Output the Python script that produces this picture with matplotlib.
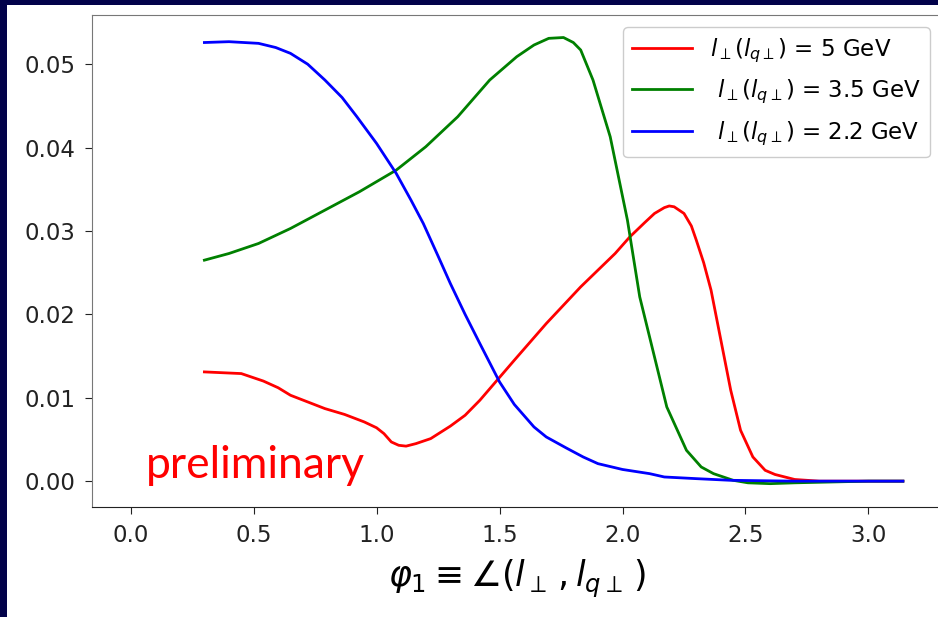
import matplotlib.pyplot as plt
from matplotlib.patches import Rectangle

# curve samples: azimuthal angle phi_1 and distribution value
phi_red = [0.30, 0.45, 0.54, 0.60, 0.65, 0.72, 0.79, 0.87, 0.95, 1.00, 1.03, 1.06,
           1.09, 1.12, 1.16, 1.22, 1.30, 1.36, 1.42, 1.49, 1.56, 1.69, 1.83, 1.97,
           2.03, 2.09, 2.13, 2.17, 2.19, 2.21, 2.25, 2.28, 2.30, 2.33, 2.36, 2.40,
           2.44, 2.48, 2.53, 2.58, 2.62, 2.70, 2.80, 3.00, 3.14]
val_red = [0.0131, 0.0129, 0.0120, 0.0112, 0.0103, 0.0095, 0.0087, 0.0080, 0.0071,
           0.0064, 0.0057, 0.0047, 0.0043, 0.0042, 0.0045, 0.0051, 0.0066, 0.0079,
           0.0097, 0.0121, 0.0145, 0.0189, 0.0233, 0.0273, 0.0293, 0.0310, 0.0321,
           0.0328, 0.0330, 0.0329, 0.0321, 0.0306, 0.0289, 0.0262, 0.0229, 0.0169,
           0.0109, 0.0061, 0.0029, 0.0013, 0.0008, 0.0002, 0.0000, 0.0000, 0.0000]

phi_green = [0.30, 0.40, 0.52, 0.65, 0.79, 0.93, 1.08, 1.20, 1.33, 1.46, 1.57, 1.64,
             1.70, 1.76, 1.80, 1.83, 1.88, 1.95, 2.02, 2.07, 2.13, 2.18, 2.26, 2.32,
             2.37, 2.45, 2.51, 2.60, 2.70, 2.85, 3.00, 3.14]
val_green = [0.0265, 0.0273, 0.0285, 0.0303, 0.0325, 0.0347, 0.0373, 0.0401, 0.0437,
             0.0481, 0.0509, 0.0523, 0.0531, 0.0532, 0.0526, 0.0517, 0.0481, 0.0413,
             0.0313, 0.0221, 0.0149, 0.0089, 0.0037, 0.0017, 0.0009, 0.0001, -0.0002,
             -0.0003, -0.0002, -0.0001, 0.0000, 0.0000]

phi_blue = [0.30, 0.40, 0.52, 0.59, 0.65, 0.72, 0.79, 0.86, 0.92, 1.00, 1.08, 1.14,
            1.19, 1.25, 1.30, 1.36, 1.42, 1.50, 1.56, 1.64, 1.69, 1.77, 1.84, 1.90,
            2.00, 2.11, 2.17, 2.30, 2.44, 2.70, 3.14]
val_blue = [0.0526, 0.0527, 0.0525, 0.0520, 0.0513, 0.0500, 0.0481, 0.0460, 0.0437,
            0.0405, 0.0369, 0.0337, 0.0309, 0.0270, 0.0237, 0.0200, 0.0165, 0.0119,
            0.0092, 0.0065, 0.0053, 0.0040, 0.0029, 0.0021, 0.0014, 0.0009, 0.0005,
            0.0003, 0.0001, 0.0000, 0.0000]

labels = [r'$l_\perp(l_{q\perp})$ = 5 GeV',
          r' $l_\perp(l_{q\perp})$ = 3.5 GeV',
          r' $l_\perp(l_{q\perp})$ = 2.2 GeV']

fig = plt.figure(figsize=(9.38, 6.17), dpi=100, facecolor='#02024a')
# white slide area inside the dark border
fig.patches.append(Rectangle((7 / 938, 0), 1, (617 - 5) / 617, transform=fig.transFigure,
                             facecolor='white', edgecolor='none', zorder=-5))

ax = fig.add_axes([92 / 938, 110 / 617, 850 / 938, 492 / 617])
ax.plot(phi_red, val_red, color='red', lw=2, label=labels[0])
ax.plot(phi_green, val_green, color='green', lw=2, label=labels[1])
ax.plot(phi_blue, val_blue, color='blue', lw=2, label=labels[2])

ax.set_xlim(-0.157, 3.299)
ax.set_ylim(-0.0031, 0.0559)
ax.set_xticks([0.0, 0.5, 1.0, 1.5, 2.0, 2.5, 3.0])
ax.set_yticks([0.00, 0.01, 0.02, 0.03, 0.04, 0.05])
ax.tick_params(labelsize=16.5, colors='#222222', length=5, pad=7)
for side in ['left', 'top']:
    ax.spines[side].set_color('#777777')
ax.spines['bottom'].set_color('#222222')

ax.set_xlabel(r'$\varphi_1 \equiv \angle(l_\perp\,, l_{q\perp}\,)$', fontsize=25, labelpad=8)

ax.text(0.061, 0.0004, 'preliminary', color='red', fontsize=32,
        family='Lato', va='baseline')

leg = ax.legend(loc='upper right', fontsize=16.5, handlelength=2.6, labelspacing=0.58,
                borderaxespad=0, framealpha=1)
leg.set_bbox_to_anchor((930 / 938, (617 - 27) / 617), transform=fig.transFigure)

fig.savefig('out.png', dpi=100, facecolor=fig.get_facecolor())
